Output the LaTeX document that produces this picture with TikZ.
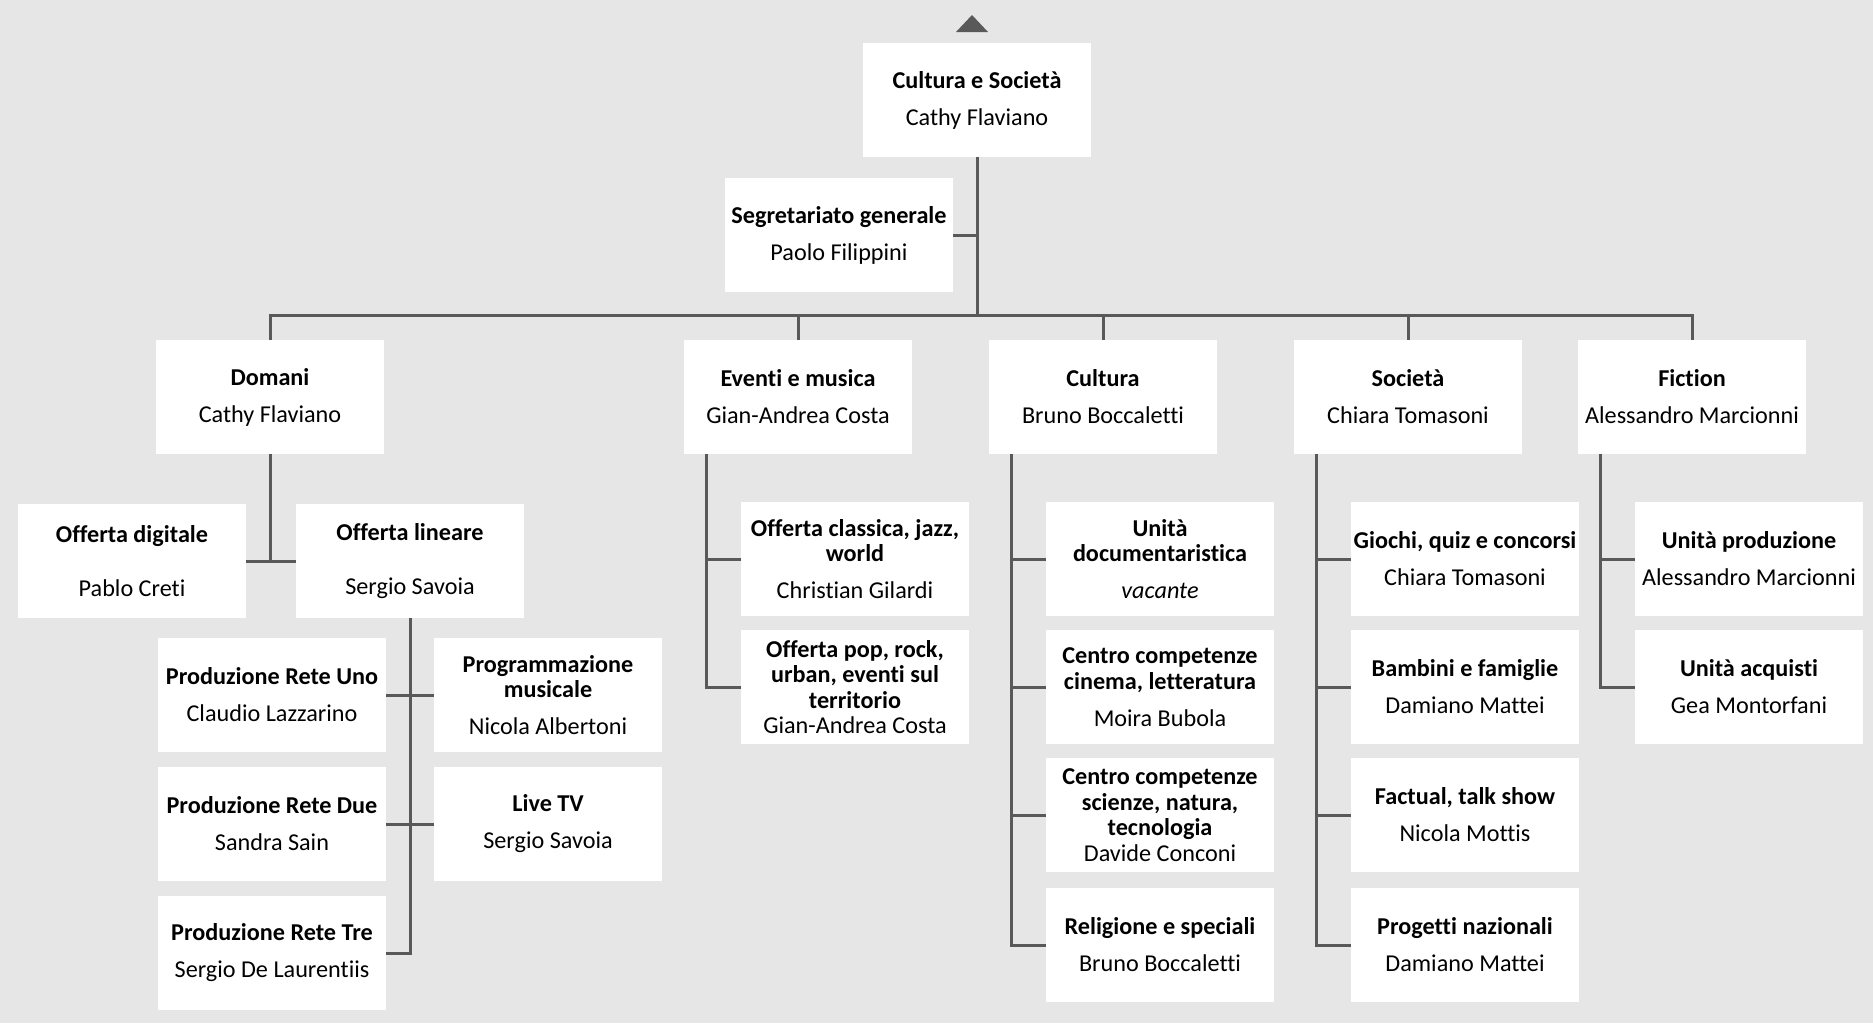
\documentclass[tikz,border=0pt]{standalone}
\usepackage{fontspec}
\setmainfont{Carlito}[Ligatures=NoCommon]
\usetikzlibrary{positioning}
\definecolor{bggray}{HTML}{E6E6E6}
\definecolor{linegray}{HTML}{595959}
\tikzset{
    unit/.style={
           rectangle,
           fill=white,
           minimum width=114pt,
           minimum height=57pt,
           inner sep=0pt,
           align=center,
           font=\fontsize{12.1}{12.8}\selectfont
           },
    link/.style={
           draw=linegray,
           line width=1.5pt
           }
}

\begin{document}
\begin{tikzpicture}[x=0.5pt, y=-0.5pt, node distance=64pt, on grid]
\useasboundingbox (0,0) rectangle (1873,1023);
\fill[bggray] (0,0) rectangle (1873,1023);
\fill[linegray] (956,32) -- (972,15) -- (988,32) -- cycle;
% direzione
   \node[unit] (cs) at (977,100) {\textbf{Cultura e Società}\\[5.7pt]Cathy Flaviano};
   \node[unit] (seg) at (839,235) {\textbf{Segretariato generale}\\[5.7pt]Paolo Filippini};
   \coordinate (bus) at (977,315);
% reparti
   \node[unit] (dom) at (270,397) {\textbf{Domani}\\[5.7pt]Cathy Flaviano};
   \node[unit] (ev) at (798,397) {\textbf{Eventi e musica}\\[5.7pt]Gian-Andrea Costa};
   \node[unit] (cul) at (1103,397) {\textbf{Cultura}\\[5.7pt]Bruno Boccaletti};
   \node[unit] (soc) at (1408,397) {\textbf{Società}\\[5.7pt]Chiara Tomasoni};
   \node[unit] (fic) at (1692,397) {\textbf{Fiction}\\[5.7pt]Alessandro Marcionni};
% Domani
   \node[unit] (dig) at (132,561) {\textbf{Offerta digitale}\\[14.2pt]Pablo Creti};
   \node[unit] (lin) at (410,561) {\textbf{Offerta lineare}\\[14.2pt]Sergio Savoia};
   \node[unit] (rete1) at (272,695) {\textbf{Produzione Rete Uno}\\[5.7pt]Claudio Lazzarino};
   \node[unit] (rete2)[below=64.5pt of rete1] {\textbf{Produzione Rete Due}\\[5.7pt]Sandra Sain};
   \node[unit] (rete3)[below=64.5pt of rete2] {\textbf{Produzione Rete Tre}\\[5.7pt]Sergio De Laurentiis};
   \node[unit] (prog) at (548,695) {\textbf{Programmazione}\\\textbf{musicale}\\[5.7pt]Nicola Albertoni};
   \node[unit] (live)[below=64.5pt of prog] {\textbf{Live TV}\\[5.7pt]Sergio Savoia};
% Eventi e musica
   \node[unit] (cla) at (855,559) {\textbf{Offerta classica, jazz,}\\\textbf{world}\\[5.7pt]Christian Gilardi};
   \node[unit] (pop)[below=of cla] {\textbf{Offerta pop, rock,}\\\textbf{urban, eventi sul}\\\textbf{territorio}\\Gian-Andrea Costa};
% Cultura
   \node[unit] (doc) at (1160,559) {\textbf{Unità}\\\textbf{documentaristica}\\[5.7pt]\textit{vacante}};
   \node[unit] (cin)[below=of doc] {\textbf{Centro competenze}\\\textbf{cinema, letteratura}\\[5.7pt]Moira Bubola};
   \node[unit] (sci)[below=of cin] {\textbf{Centro competenze}\\\textbf{scienze, natura,}\\\textbf{tecnologia}\\Davide Conconi};
   \node[unit] (rel)[below=65pt of sci] {\textbf{Religione e speciali}\\[5.7pt]Bruno Boccaletti};
% Societa
   \node[unit] (gio) at (1465,559) {\textbf{Giochi, quiz e concorsi}\\[5.7pt]Chiara Tomasoni};
   \node[unit] (bam)[below=of gio] {\textbf{Bambini e famiglie}\\[5.7pt]Damiano Mattei};
   \node[unit] (fac)[below=of bam] {\textbf{Factual, talk show}\\[5.7pt]Nicola Mottis};
   \node[unit] (pro)[below=65pt of fac] {\textbf{Progetti nazionali}\\[5.7pt]Damiano Mattei};
% Fiction
   \node[unit] (upr) at (1749,559) {\textbf{Unità produzione}\\[5.7pt]Alessandro Marcionni};
   \node[unit] (uac)[below=of upr] {\textbf{Unità acquisti}\\[5.7pt]Gea Montorfani};
% collegamenti
   \draw[link] (cs.south) -- (bus);
   \draw[link] (seg.east) -- (seg.east -| cs.south);
   \draw[link] (dom.north) -- (dom |- bus) -- (fic |- bus) -- (fic.north);
   \foreach \d in {ev,cul,soc}
      \draw[link] (\d |- bus) -- (\d.north);
   \draw[link] (dom.south) -- (dom |- dig.east);
   \draw[link] (dig.east) -- (lin.west);
   \draw[link] (lin.south) -- (lin |- rete3.east) -- (rete3.east);
   \draw[link] (rete1.east) -- (prog.west);
   \draw[link] (rete2.east) -- (live.west);
   \coordinate (evl) at ([xshift=11.5pt]ev.south west);
   \draw[link] (evl) -- (evl |- pop.west) -- (pop.west);
   \draw[link] (evl |- cla.west) -- (cla.west);
   \coordinate (cull) at ([xshift=11.5pt]cul.south west);
   \draw[link] (cull) -- (cull |- rel.west) -- (rel.west);
   \foreach \u in {doc,cin,sci}
      \draw[link] (cull |- \u.west) -- (\u.west);
   \coordinate (socl) at ([xshift=11.5pt]soc.south west);
   \draw[link] (socl) -- (socl |- pro.west) -- (pro.west);
   \foreach \u in {gio,bam,fac}
      \draw[link] (socl |- \u.west) -- (\u.west);
   \coordinate (ficl) at ([xshift=11.5pt]fic.south west);
   \draw[link] (ficl) -- (ficl |- uac.west) -- (uac.west);
   \draw[link] (ficl |- upr.west) -- (upr.west);
\end{tikzpicture}
\end{document}
